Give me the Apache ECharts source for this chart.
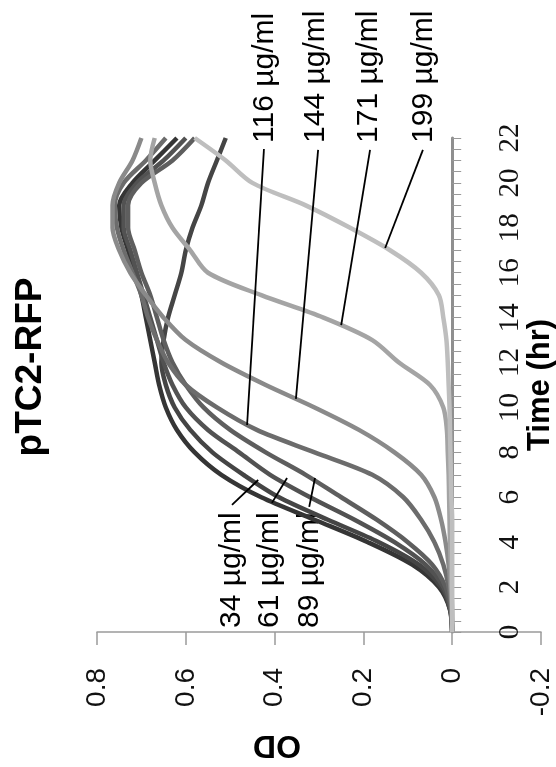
<!DOCTYPE html>
<html><head><meta charset="utf-8">
<script src="https://cdn.jsdelivr.net/npm/echarts@6/dist/echarts.min.js"></script>
<style>html,body{margin:0;padding:0;background:#fff}#c{width:556px;height:767px}</style>
</head><body><div id="c"></div>
<script>
// Time (hr) samples
const hours = [0,1,2,3,4,5,6,7,8,9,10,11,12,13,14,15,16,17,18,19,20,21,22];
// OD values per concentration
const odCtrl = [0,0.005,0.03,0.09,0.19,0.31,0.43,0.52,0.58,0.62,0.645,0.66,0.67,0.68,0.69,0.70,0.715,0.73,0.745,0.75,0.72,0.67,0.62];
const od34  = [0,0.005,0.025,0.075,0.165,0.28,0.39,0.47,0.54,0.59,0.625,0.645,0.655,0.65,0.64,0.625,0.61,0.60,0.585,0.565,0.55,0.53,0.51];
const od61  = [0,0.004,0.02,0.06,0.13,0.22,0.32,0.41,0.48,0.55,0.60,0.63,0.65,0.665,0.68,0.695,0.71,0.725,0.74,0.74,0.71,0.65,0.60];
const od89  = [0,0.003,0.015,0.045,0.10,0.17,0.25,0.33,0.42,0.50,0.56,0.60,0.63,0.65,0.665,0.68,0.70,0.715,0.73,0.73,0.70,0.63,0.58];
const od116 = [0,0.002,0.008,0.02,0.04,0.07,0.11,0.18,0.31,0.44,0.53,0.60,0.64,0.665,0.685,0.70,0.72,0.74,0.755,0.76,0.74,0.69,0.645];
const od144 = [0,0.001,0.004,0.008,0.015,0.025,0.04,0.07,0.13,0.21,0.31,0.42,0.52,0.60,0.65,0.69,0.725,0.75,0.765,0.765,0.75,0.72,0.70];
const od171 = [0,0,0.002,0.003,0.005,0.006,0.007,0.008,0.01,0.012,0.02,0.05,0.12,0.18,0.29,0.43,0.55,0.59,0.63,0.655,0.67,0.68,0.67];
const od199 = [0,0,0,0,0,0,0.002,0.003,0.004,0.005,0.006,0.008,0.01,0.013,0.02,0.03,0.07,0.14,0.23,0.33,0.45,0.51,0.58];

const seriesNames = ['0 µg/ml','34 µg/ml','61 µg/ml','89 µg/ml','116 µg/ml','144 µg/ml','171 µg/ml','199 µg/ml'];
const seriesValues = [odCtrl, od34, od61, od89, od116, od144, od171, od199];
const seriesColors = ['#353535','#454545','#525252','#5e5e5e','#6c6c6c','#8a8a8a','#a4a4a4','#bebebe'];

// Annotation labels: text, anchor [OD, time], leader start [OD, time], leader end on curve [OD, time]
const annoText  = ['116 µg/ml','144 µg/ml','171 µg/ml','199 µg/ml','34 µg/ml','61 µg/ml','89 µg/ml'];
const annoAnchor = [[0.422,21.78],[0.307,21.78],[0.187,21.78],[0.065,21.78],[0.496,0.18],[0.410,0.18],[0.320,0.18]];
const leadStart = [[0.424,21.51],[0.302,21.47],[0.185,21.47],[0.066,21.47],[0.496,5.66],[0.406,5.75],[0.322,5.57]];
const leadEnd   = [[0.462,9.22],[0.352,10.38],[0.250,13.67],[0.151,17.1],[0.437,6.77],[0.372,6.86],[0.309,6.86]];

const gridW = 444; // plot width in px; OD axis spans -0.2 .. 0.8
const chart = echarts.init(document.getElementById('c'));
const series = seriesValues.map((vals, i) => ({
  name: seriesNames[i], type: 'line', showSymbol: false, smooth: 0.3,
  data: hours.map((h, j) => [vals[j], h]),
  lineStyle: {color: seriesColors[i], width: 4.5}, itemStyle: {color: seriesColors[i]},
  z: 2 + i
}));
chart.setOption({
  animation: false,
  backgroundColor: '#fff',
  grid: {left: 97, width: gridW, top: 138, bottom: 135, containLabel: false, outerBoundsMode: 'none'},
  xAxis: {
    type: 'value', min: -0.2, max: 0.8, interval: 0.2, inverse: true, position: 'bottom',
    axisLine: {show: true, onZero: false, lineStyle: {color: '#9a9a9a', width: 1.5}},
    axisTick: {show: true, length: 13, lineStyle: {color: '#9a9a9a', width: 1.5}},
    axisLabel: {rotate: 90, margin: 36, fontSize: 28, color: '#111', fontFamily: 'Liberation Sans'},
    splitLine: {show: false}
  },
  yAxis: {
    type: 'value', min: 0, max: 22, interval: 2, position: 'right',
    offset: -gridW * 0.2,  // time axis crosses at OD = 0
    axisLine: {show: true, onZero: false, lineStyle: {color: '#8f8f8f', width: 3}},
    axisTick: {show: true, length: 9, lineStyle: {color: '#999', width: 1}},
    minorTick: {show: true, splitNumber: 4, length: 9, lineStyle: {color: '#999', width: 1}},
    axisLabel: {rotate: 90, margin: 44, fontSize: 29, color: '#111', fontFamily: 'Liberation Serif'},
    splitLine: {show: false}
  },
  series: series
});

const px = p => chart.convertToPixel({gridIndex: 0}, p);
const graphics = [];
annoText.forEach((t, i) => {
  const a = px(annoAnchor[i]);
  graphics.push({type: 'text', x: a[0], y: a[1], rotation: Math.PI / 2,
    style: {text: t, fill: '#000', font: '30px "Liberation Sans"', textAlign: 'left', textVerticalAlign: 'middle'}});
  const s = px(leadStart[i]), e = px(leadEnd[i]);
  graphics.push({type: 'line', shape: {x1: s[0], y1: s[1], x2: e[0], y2: e[1]},
    style: {stroke: '#000', lineWidth: 1.8}, z: 100});
});
graphics.push({type: 'text', x: 31, y: 367, rotation: Math.PI / 2,
  style: {text: 'pTC2-RFP', fill: '#000', font: 'bold 37px "Liberation Sans"', textAlign: 'center', textVerticalAlign: 'middle'}});
graphics.push({type: 'text', x: 540, y: 385, rotation: Math.PI / 2,
  style: {text: 'Time (hr)', fill: '#000', font: 'bold 31px "Liberation Sans"', textAlign: 'center', textVerticalAlign: 'middle'}});
graphics.push({type: 'text', x: 277, y: 745, rotation: Math.PI,
  style: {text: 'OD', fill: '#000', font: 'bold 32px "Liberation Sans"', textAlign: 'center', textVerticalAlign: 'middle'}});
chart.setOption({graphic: graphics});
</script></body></html>
